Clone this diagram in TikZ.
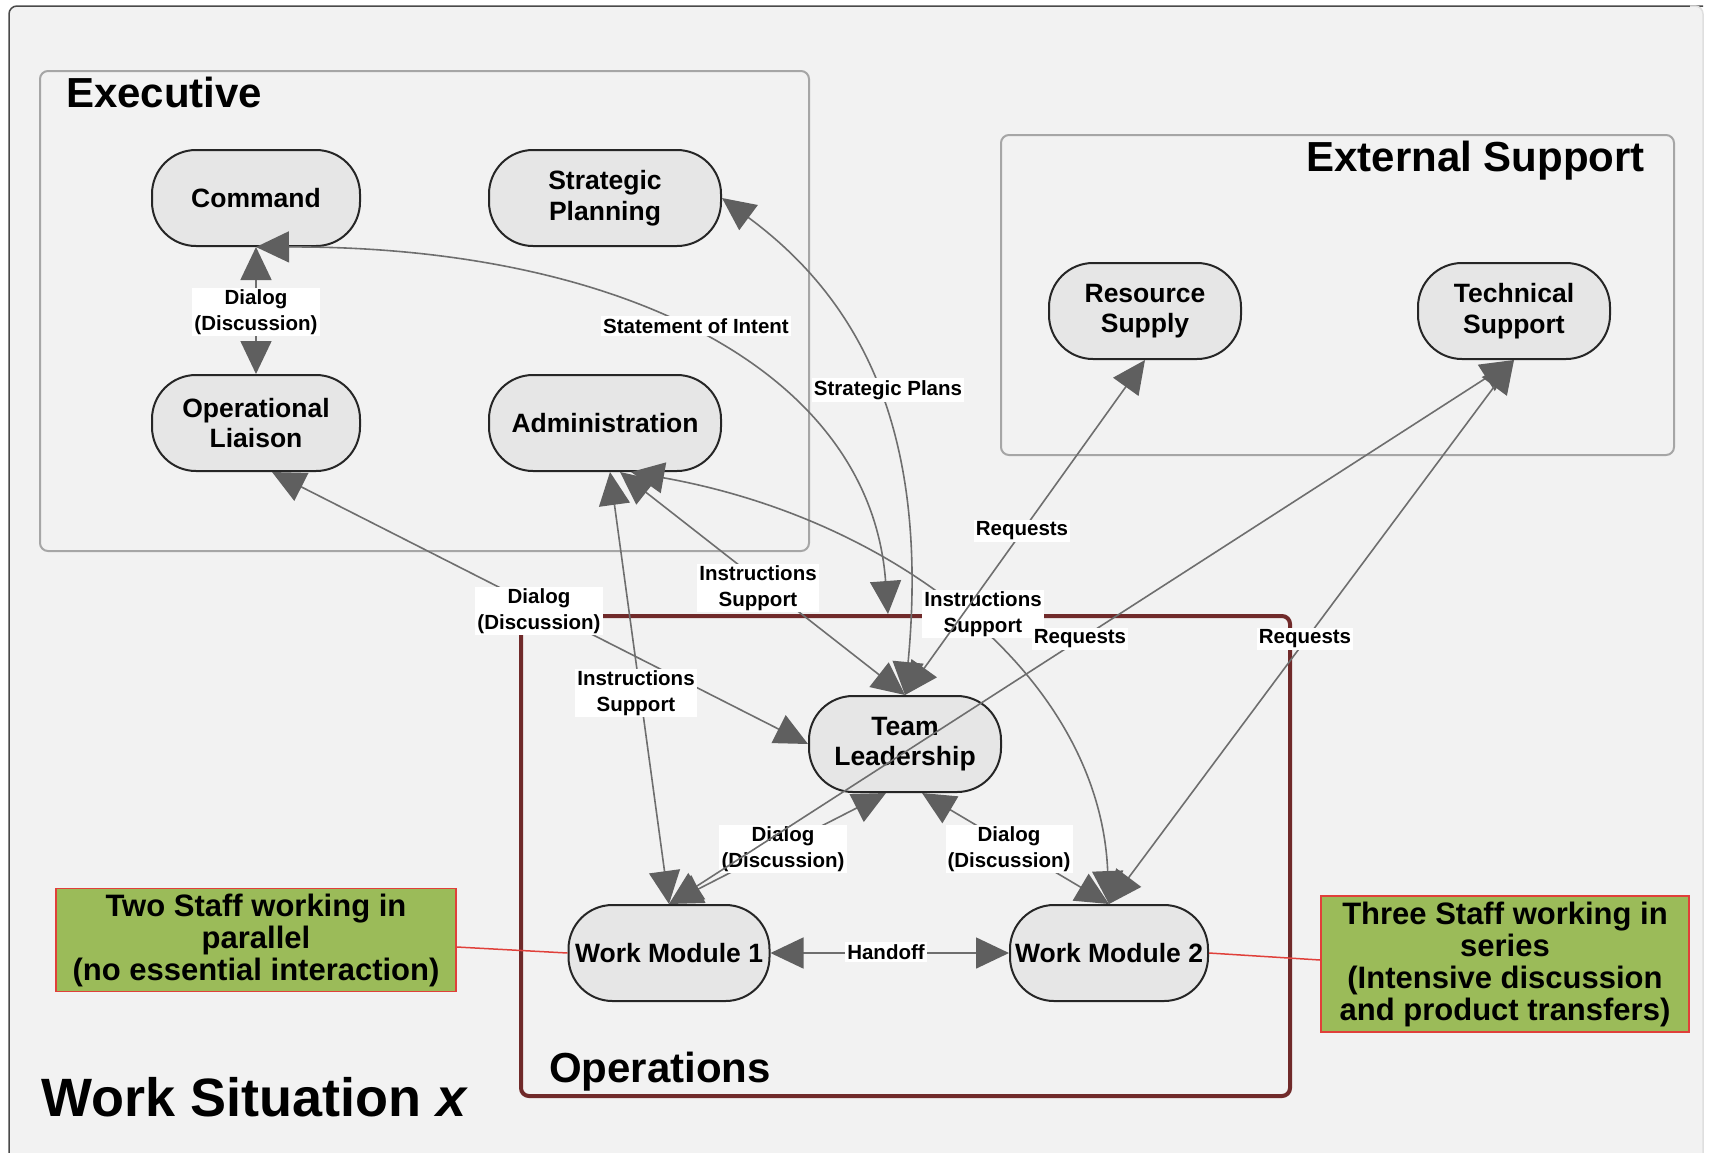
\documentclass[tikz,border=0pt]{standalone}
\usepackage{fontspec}
\setmainfont{Liberation Sans}
\usetikzlibrary{arrows.meta}
\definecolor{bgc}{HTML}{F2F2F2}
\definecolor{nodef}{HTML}{E6E6E6}
\definecolor{nodeb}{HTML}{262626}
\definecolor{grpb}{HTML}{A6A6A6}
\definecolor{opsc}{RGB}{112,42,42}
\definecolor{lineg}{HTML}{6E6E6E}
\definecolor{arrg}{HTML}{5F5F5F}
\definecolor{notef}{HTML}{9BBB59}
\definecolor{noteb}{HTML}{E0403A}
\definecolor{framec}{HTML}{4A4A4A}
\begin{document}
\begin{tikzpicture}[x=1pt,y=-1pt,
  pill/.style={draw=nodeb, fill=nodef, line width=2pt, rounded corners=44pt, minimum height=96pt, inner sep=0pt, align=center, font=\fontsize{26.5pt}{30.5pt}\selectfont\bfseries},
  elab/.style={fill=white, inner sep=2pt, align=center, font=\fontsize{20.5pt}{25.5pt}\selectfont\bfseries},
  conn/.style={draw=lineg, line width=1.6pt, {Triangle[length=33pt,width=31pt,color=arrg]}-{Triangle[length=33pt,width=31pt,color=arrg]}},
  grp/.style={draw=grpb, line width=2pt, rounded corners=8pt},
  notebox/.style={draw=noteb, fill=notef, line width=1.5pt, inner sep=0pt, align=center, font=\fontsize{31pt}{32pt}\selectfont\bfseries},
  grpt/.style={inner sep=0pt, font=\fontsize{42pt}{46pt}\selectfont\bfseries},
  redl/.style={draw=noteb, line width=1.5pt}
]
\useasboundingbox (0,0) rectangle (1710,1152);
\fill[white] (0,0) rectangle (1710,1152);
\fill[bgc, rounded corners=8pt] (9,6) rectangle (1703,1190);
\draw[framec, line width=1.5pt, rounded corners=8pt] (9,1190) -- (9,6) -- (1703,6);
\draw[gray!25, line width=1.5pt, rounded corners=8pt] (1690,6) -- (1703,6) -- (1703,1190);

% groups
\draw[grp] (40,71) rectangle (809,551);
\draw[grp] (1001,135) rectangle (1674,455);
\draw[draw=opsc, line width=4pt, rounded corners=8pt] (521,616) rectangle (1290,1096);

\node[grpt, anchor=base west] (exT) at (66,107) {Executive};
\node[grpt, anchor=base east] (esT) at (1645,171) {External Support};
\node[grpt, anchor=base west] (opT) at (549,1082) {Operations};
\node[inner sep=0pt, anchor=base west, font=\fontsize{54pt}{60pt}\selectfont\bfseries] (ws) at (41,1116) {Work Situation \textit{x}};

% nodes
\node[pill, minimum width=208pt] (cmd) at (256,198) {Command};
\node[pill, minimum width=232pt] (sp) at (605,198) {Strategic\\Planning};
\node[pill, minimum width=208pt] (ol) at (256,423) {Operational\\Liaison};
\node[pill, minimum width=232pt] (adm) at (605,423) {Administration};
\node[pill, minimum width=192pt] (rs) at (1145,311) {Resource\\Supply};
\node[pill, minimum width=192pt] (ts) at (1514,311) {Technical\\Support};
\node[pill, minimum width=192pt] (tl) at (905,744) {Team\\Leadership};
\node[pill, minimum width=201pt] (wm1) at (669,953) {Work Module 1};
\node[pill, minimum width=198pt] (wm2) at (1109,953) {Work Module 2};

\node[notebox, minimum width=400pt, minimum height=103pt] (lg) at (256,940) {Two Staff working in\\parallel\\(no essential interaction)};
\node[notebox, minimum width=368pt, minimum height=136pt] (rg) at (1505,964) {Three Staff working in\\series\\(Intensive discussion\\and product transfers)};

\draw[redl] ([yshift=-7pt]lg.east) -- (wm1.west);
\draw[redl] (wm2.east) -- ([yshift=4pt]rg.west);

% connectors
\coordinate (soi) at (888,614);
\draw[conn] (cmd.south) -- (ol.north);
\node[elab] (l1) at (256,312) {Dialog\\(Discussion)};
\draw[conn] (cmd.south) .. controls (620,246) and (870,370) .. (soi);
\node[elab] (l2) at (696,326) {Statement of Intent};
\draw[conn] (sp.east) .. controls (860,300) and (930,430) .. (tl.north);
\node[elab] (l3) at (888,390) {Strategic Plans};
\draw[conn] ([xshift=16pt]ol.south) -- (tl.west);
\node[elab] (l5) at (539,611) {Dialog\\(Discussion)};
\draw[conn] ([xshift=15pt]adm.south) -- (tl.north);
\node[elab] (l6) at (758,588) {Instructions\\Support};
\draw[conn] ([xshift=26pt]adm.south) .. controls (900,520) and (1100,680) .. (wm2.north);
\node[elab] (l7) at (983,614) {Instructions\\Support};
\draw[conn] ([xshift=5pt]adm.south) -- (wm1.north);
\node[elab] (l10) at (636,693) {Instructions\\Support};
\draw[conn] (wm1.north) -- ([xshift=-19pt]tl.south);
\node[elab] (l11) at (783,849) {Dialog\\(Discussion)};
\draw[conn] ([xshift=17pt]tl.south) -- (wm2.north);
\node[elab] (l12) at (1009,849) {Dialog\\(Discussion)};
\draw[conn] (wm1.east) -- (wm2.west);
\node[elab] (l13) at (886,952) {Handoff};
\draw[conn] (tl.north) -- (rs.south);
\node[elab] (l4) at (1022,531) {Requests};
\draw[conn] (wm1.north) -- (ts.south);
\node[elab] (l8) at (1080,639) {Requests};
\draw[conn] (wm2.north) -- (ts.south);
\node[elab] (l9) at (1305,639) {Requests};
\end{tikzpicture}
\end{document}
